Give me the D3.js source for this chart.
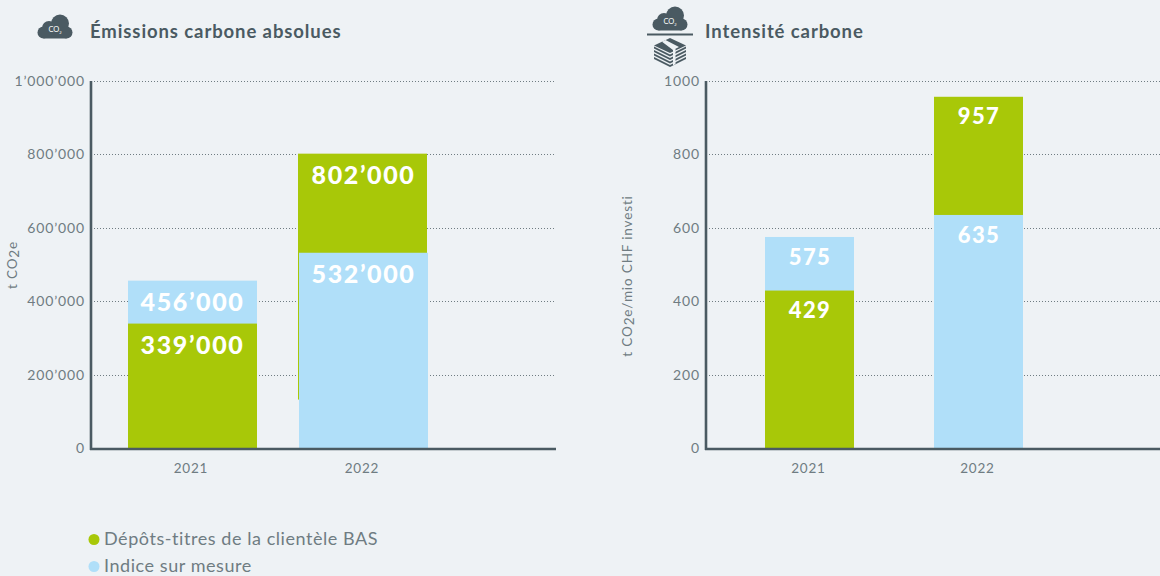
<!DOCTYPE html>
<html><head><meta charset="utf-8">
<script src="https://cdn.jsdelivr.net/npm/d3@7"></script>
<style>
html,body{margin:0;padding:0;background:#eef2f5;overflow:hidden}
text{font-family:Lato,"Open Sans",sans-serif}
</style></head><body>
<svg id="c" width="1160" height="576"></svg>
<script>
const years = ["2021","2022"];
const leftGreen = [339000, 802000];
const leftBlue = [456000, 532000];
const rightGreen = [429, 957];
const rightBlue = [575, 635];
const leftTicks = [0,200000,400000,600000,800000,1000000];
const rightTicks = [0,200,400,600,800,1000];
const sliverFloor = 132000;
const legendItems = ["Dépôts-titres de la clientèle BAS","Indice sur mesure"];
const GREEN="#a8c808", BLUE="#b0dff9", DARK="#4a5a62", GREY="#6f7c82", BG="#eef2f5";
const svg=d3.select("#c");
const fmt=v=>String(v).replace(/\B(?=(\d{3})+$)/g,"’");

function chart(o){
  const y=d3.scaleLinear().domain(o.domain).range([448,81]);
  const x=d3.scaleOrdinal().domain(years).range(o.xs);
  const g=svg.append("g");
  g.selectAll(".grid").data(o.ticks.filter(t=>t>0)).join("line")
    .attr("x1",o.axisX+4).attr("x2",o.gridEnd)
    .attr("y1",d=>Math.round(y(d))+.5).attr("y2",d=>Math.round(y(d))+.5)
    .attr("stroke","#6f7c82").attr("stroke-width",1).attr("stroke-dasharray","1 2");
  const ax=d3.axisLeft(y).tickValues(o.ticks).tickSize(0).tickPadding(0).tickFormat(o.fmt);
  const ag=g.append("g").attr("transform",`translate(${o.axisX-5},0)`).call(ax);
  ag.select(".domain").remove();
  ag.selectAll("text").attr("fill",GREY).style("font-size","14px").style("letter-spacing","0.85px").style("font-family","Lato");
  o.draw(g,x,y);
  g.append("line").attr("x1",o.axisX+1).attr("x2",o.axisX+1).attr("y1",y(o.domain[1])).attr("y2",450)
    .attr("stroke",DARK).attr("stroke-width",2.6);
  g.append("line").attr("x1",o.axisX).attr("x2",o.axisEnd).attr("y1",449).attr("y2",449)
    .attr("stroke",DARK).attr("stroke-width",2.6);
  g.selectAll(".xl").data(years).join("text")
    .attr("x",d=>x(d)+o.bw/2+o.xlShift).attr("y",473).attr("text-anchor","middle")
    .attr("fill",GREY).style("font-size","13.5px").style("letter-spacing","0.8px").text(d=>d);
  const t=g.append("text").attr("transform",`translate(${o.titleX},${o.titleY}) rotate(-90)`)
    .attr("text-anchor","middle").attr("fill",GREY).style("font-size","13.5px").style("letter-spacing","0.85px");
  t.append("tspan").text("t CO");
  t.append("tspan").attr("dy",2).text("2");
  t.append("tspan").attr("dy",-2).text(o.titleRest);
  g.append("text").attr("x",o.headX).attr("y",38).attr("fill",DARK)
    .style("font-size","18.5px").style("font-weight","700").style("letter-spacing","0.9px").text(o.head);
}
function lab(g,x,y,t,size,ls){
  g.append("text").attr("x",x).attr("y",y).attr("text-anchor","middle").attr("fill","#fff")
   .style("font-size",size+"px").style("font-weight","900").style("letter-spacing",ls+"px").text(t);
}
chart({domain:[0,1000000],ticks:leftTicks,fmt:fmt,axisX:90,gridEnd:554,axisEnd:556,xs:[128,299],bw:129,xlShift:-1.5,
  titleX:17,titleY:265,titleRest:"e",head:"Émissions carbone absolues",headX:90,
  draw(g,x,y){
    const bw=129;
    g.append("rect").attr("x",x("2021")).attr("width",bw).attr("y",y(leftBlue[0])).attr("height",y(0)-y(leftBlue[0])).attr("fill",BLUE);
    g.append("rect").attr("x",x("2021")).attr("width",bw).attr("y",y(leftGreen[0])).attr("height",y(0)-y(leftGreen[0])).attr("fill",GREEN);
    g.append("rect").attr("x",x("2022")-1).attr("width",bw).attr("y",y(leftGreen[1])).attr("height",y(sliverFloor)-y(leftGreen[1])).attr("fill",GREEN);
    g.append("rect").attr("x",x("2022")).attr("width",bw).attr("y",y(leftBlue[1])).attr("height",y(0)-y(leftBlue[1])).attr("fill",BLUE);
    lab(g,192.5,311,fmt(leftBlue[0]),25,1.6);
    lab(g,192.5,354,fmt(leftGreen[0]),25,1.6);
    lab(g,363.5,184,fmt(leftGreen[1]),25,1.6);
    lab(g,363.5,283,fmt(leftBlue[1]),25,1.6);
  }});
chart({domain:[0,1000],ticks:rightTicks,fmt:d=>d,axisX:705,gridEnd:1160,axisEnd:1160,xs:[765,934],bw:89,xlShift:-1,
  titleX:632,titleY:276,titleRest:"e/mio CHF investi",head:"Intensité carbone",headX:705,
  draw(g,x,y){
    const bw=89;
    g.append("rect").attr("x",x("2021")).attr("width",bw).attr("y",y(rightBlue[0])).attr("height",y(0)-y(rightBlue[0])).attr("fill",BLUE);
    g.append("rect").attr("x",x("2021")).attr("width",bw).attr("y",y(rightGreen[0])).attr("height",y(0)-y(rightGreen[0])).attr("fill",GREEN);
    g.append("rect").attr("x",x("2022")).attr("width",bw).attr("y",y(rightGreen[1])).attr("height",y(0)-y(rightGreen[1])).attr("fill",GREEN);
    g.append("rect").attr("x",x("2022")).attr("width",bw).attr("y",y(rightBlue[1])).attr("height",y(0)-y(rightBlue[1])).attr("fill",BLUE);
    lab(g,810,265,rightBlue[0],22,1.4);
    lab(g,810,318,rightGreen[0],22,1.4);
    lab(g,979,124,rightGreen[1],22,1.4);
    lab(g,979,243,rightBlue[1],22,1.4);
  }});
const leg=svg.append("g");
leg.selectAll("circle").data(legendItems).join("circle")
  .attr("cx",94).attr("cy",(d,i)=>539.5+i*27).attr("r",5.5).attr("fill",(d,i)=>i?BLUE:GREEN);
leg.selectAll("text").data(legendItems).join("text")
  .attr("x",104).attr("y",(d,i)=>545+i*27).attr("fill",GREY)
  .style("font-size","18px").style("letter-spacing","0.56px").text(d=>d);
function cloud(g,tx,ty){
  const c=g.append("g").attr("transform",`translate(${tx},${ty})`).attr("fill",DARK);
  [[23,9.5,9],[12,14,7],[6.5,18.5,6],[29.5,18.5,6]].forEach(a=>c.append("circle").attr("cx",a[0]).attr("cy",a[1]).attr("r",a[2]));
  c.append("rect").attr("x",6.5).attr("y",14).attr("width",23).attr("height",10.5);
  const t=c.append("text").attr("x",18).attr("y",18).attr("text-anchor","middle").attr("fill","#fff").style("font-size","7.5px");
  t.append("tspan").text("CO");t.append("tspan").attr("dy",1.5).style("font-size","4px").text("2");
}
cloud(svg,37,14);
cloud(svg,652,6);
svg.append("rect").attr("x",647).attr("y",33.5).attr("width",46).attr("height",2).attr("fill",DARK);
const m=svg.append("g").attr("transform","translate(654,38)").attr("fill",DARK);
[13,9.5,6,2.5].forEach(dy=>{
  m.append("path").attr("d",`M0 ${dy+6}L16 ${dy+14}L32 ${dy+6}L32 ${dy+8}L16 ${dy+16}L0 ${dy+8}Z`);
});
m.append("path").attr("d","M0 7.5L16 0L32 7.5L16 15Z");
m.append("path").attr("d","M8 3.8L11.5 2L25 9L21.5 10.8L21.5 26L19 27.5L19 12Z").attr("fill",BG);
</script>
</body></html>
